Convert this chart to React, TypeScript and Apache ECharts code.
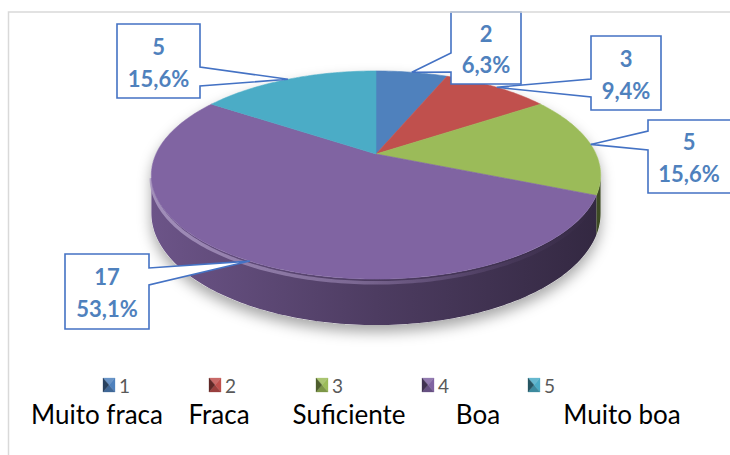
import React, { useEffect, useRef } from "react";
import * as echarts from "echarts";

// ---- data ----
const categories = ["1", "2", "3", "4", "5"];
const categoryNames = ["Muito fraca", "Fraca", "Suficiente", "Boa", "Muito boa"];
const values = [2, 3, 5, 17, 5];
const sliceColors = ["#4f81bd", "#c0504d", "#9bbb59", "#8064a2", "#4bacc6"];

// ---- layout (pixels) ----
const CX = 376; // pie apex x
const CY = 154; // pie apex y
const RX = 220;
const RY = 99.8;
const K = 0.202; // perspective
const DEPTH = 36.7;
// callout boxes: [x0, y0, x1, y1, side, attachTop, attachBottom]
const calloutBoxes: [number, number, number, number, string, number, number][] = [
  [451, 12, 521, 84, "left", 53, 72],
  [591, 36, 661, 110, "left", 79, 97],
  [648, 120, 732, 193, "left", 131, 150],
  [65, 254, 149, 329, "right", 268, 285],
  [117, 24, 200, 98, "right", 67, 86],
];
const legendX = [103, 209, 316, 422, 528];
const legendY = 385;
const nameX = [97, 219, 349, 478, 622];
const nameY = 414;

const total = values.reduce((a, b) => a + b, 0);
const startAngles: number[] = [];
{
  let acc = 0;
  values.forEach((v) => {
    startAngles.push((acc / total) * 360);
    acc += v;
  });
}

// largest remainder rounding of percentages (one decimal), like Excel
function percentLabels(vals: number[]): string[] {
  const tenths = vals.map((v) => (v / total) * 1000);
  const fl = tenths.map((t) => Math.floor(t + 1e-9));
  let rest = 1000 - fl.reduce((a, b) => a + b, 0);
  const order = tenths
    .map((t, i) => ({ i, r: t - fl[i] }))
    .sort((a, b) => b.r - a.r);
  for (let j = 0; j < order.length && rest > 0; j++, rest--) fl[order[j].i] += 1;
  return fl.map((n) => (n / 10).toFixed(1).replace(".", ",") + "%");
}
const pctLabels = percentLabels(values);

function hexToRgb(h: string) {
  const n = parseInt(h.slice(1), 16);
  return [(n >> 16) & 255, (n >> 8) & 255, n & 255];
}
function shade(h: string, f: number, a = 1) {
  const [r, g, b] = hexToRgb(h);
  const c = (x: number) => Math.max(0, Math.min(255, Math.round(x * f)));
  return `rgba(${c(r)},${c(g)},${c(b)},${a})`;
}
function tint(h: string, f: number, a = 1) {
  const [r, g, b] = hexToRgb(h);
  const c = (x: number) => Math.round(x + (255 - x) * f);
  return `rgba(${c(r)},${c(g)},${c(b)},${a})`;
}

function proj(deg: number, r = 1, down = 0): number[] {
  const t = (deg * Math.PI) / 180;
  const u = r * Math.sin(t);
  const v = r * Math.cos(t);
  const w = 1 + K * v;
  return [CX + (RX * u) / w, CY - (RY * v) / w + down / w];
}

const SIL = (Math.acos(-K) * 180) / Math.PI; // silhouette angle
const VIS0 = SIL;
const VIS1 = 360 - SIL;

function arcPts(a0: number, a1: number, down = 0, r = 1) {
  const pts: number[][] = [];
  const n = Math.max(2, Math.ceil(Math.abs(a1 - a0) / 1));
  for (let i = 0; i <= n; i++) pts.push(proj(a0 + ((a1 - a0) * i) / n, r, down));
  return pts;
}

function renderPie(params: any, api: any) {
  const i = params.dataIndex;
  const v = api.value(0);
  const a0 = startAngles[i];
  const a1 = a0 + (v / total) * 360;
  const col = sliceColors[i];
  const children: any[] = [];

  if (i === 0) {
    // soft drop shadow beneath the whole pie
    const base = arcPts(VIS0, VIS1, DEPTH);
    children.push({
      type: "polygon",
      shape: { points: base.concat(arcPts(VIS1, VIS0 + 360, 0).slice(1)) },
      style: {
        fill: "#ffffff",
        shadowBlur: 14,
        shadowColor: "rgba(0,0,0,0.35)",
        shadowOffsetY: 7,
      },
    });
  }

  const s0 = Math.max(a0, VIS0);
  const s1 = Math.min(a1, VIS1);
  if (s1 > s0) {
    const topEdge = arcPts(s0, s1, 0);
    const botEdge = arcPts(s0, s1, DEPTH).reverse();
    children.push({
      type: "polygon",
      shape: { points: topEdge.concat(botEdge) },
      style: {
        fill: {
          type: "linear",
          x: CX - RX * 1.02,
          y: 0,
          x2: CX + RX * 1.02,
          y2: 0,
          global: true,
          colorStops: [
            { offset: 0, color: shade(col, 0.84) },
            { offset: 0.5, color: shade(col, 0.6) },
            { offset: 1, color: shade(col, 0.4) },
          ],
        },
        stroke: null,
      },
    });
    children.push({
      type: "polyline",
      shape: { points: arcPts(s0, s1, 3) },
      style: {
        fill: null,
        lineWidth: 3.5,
        stroke: {
          type: "linear",
          x: CX - RX * 1.02,
          y: 0,
          x2: CX + RX * 1.02,
          y2: 0,
          global: true,
          colorStops: [
            { offset: 0, color: tint(col, 0.35, 0.85) },
            { offset: 0.45, color: tint(col, 0.25, 0.55) },
            { offset: 0.8, color: tint(col, 0.1, 0.12) },
            { offset: 1, color: tint(col, 0, 0) },
          ],
        },
      },
    });
  }

  const face = [[CX, CY]].concat(arcPts(a0, a1, 0));
  children.push({
    type: "polygon",
    shape: { points: face },
    style: { fill: col, stroke: col, lineWidth: 0.6 },
  });
  return { type: "group", children };
}

function renderCallout(params: any, api: any) {
  const i = params.dataIndex;
  const v = api.value(0);
  const a0 = startAngles[i];
  const mid = a0 + (v / total) * 180;
  const tip = proj(mid, 1, 0);
  const [x0, y0, x1, y1, side, t0, t1] = calloutBoxes[i];
  let pts: number[][];
  if (side === "right") {
    pts = [[x0, y0], [x1, y0], [x1, t0], tip, [x1, t1], [x1, y1], [x0, y1]];
  } else {
    pts = [[x0, y0], [x1, y0], [x1, y1], [x0, y1], [x0, t1], tip, [x0, t0]];
  }
  const cx = (x0 + Math.min(x1, 730)) / 2;
  const h = y1 - y0;
  const txt = (text: string, y: number) => ({
    type: "text",
    x: cx,
    y,
    style: {
      text,
      fill: "#4f81bd",
      fontSize: 22,
      fontWeight: "bold",
      fontFamily: "Lato",
      align: "center",
      verticalAlign: "middle",
    },
  });
  return {
    type: "group",
    children: [
      {
        type: "polygon",
        shape: { points: pts },
        style: { fill: "#ffffff", stroke: "#4472c4", lineWidth: 1.6 },
      },
      txt(String(v), y0 + h * 0.3),
      txt(pctLabels[i], y0 + h * 0.73),
    ],
  };
}

function legendGraphics() {
  const els: any[] = [];
  categories.forEach((c, i) => {
    const x = legendX[i];
    const y = legendY - 7;
    const w = 12;
    const hh = 14;
    const col = sliceColors[i];
    const mx = x + w / 2;
    const my = y + hh / 2;
    const tri = (p: number[][], f: string) => ({
      type: "polygon",
      shape: { points: p },
      style: { fill: f, stroke: f, lineWidth: 0.3 },
    });
    els.push(tri([[x, y], [x + w, y], [mx, my]], tint(col, 0.15)));
    els.push(tri([[x + w, y], [x + w, y + hh], [mx, my]], shade(col, 1.0)));
    els.push(tri([[x, y + hh], [x + w, y + hh], [mx, my]], shade(col, 0.8)));
    els.push(tri([[x, y], [x, y + hh], [mx, my]], shade(col, 0.5)));
    els.push({
      type: "text",
      x: x + 16,
      y: legendY,
      style: {
        text: c,
        fill: "#595959",
        fontSize: 19,
        fontFamily: "Lato",
        align: "left",
        verticalAlign: "middle",
      },
    });
  });
  categoryNames.forEach((n, i) => {
    els.push({
      type: "text",
      x: nameX[i],
      y: nameY,
      style: {
        text: n,
        fill: "#000000",
        fontSize: 26,
        fontFamily: "Lato",
        align: "center",
        verticalAlign: "middle",
      },
    });
  });
  els.push({
    type: "rect",
    z: 100,
    shape: { x: 8.5, y: 12, width: 780, height: 500 },
    style: { fill: null, stroke: "#d9d9d9", lineWidth: 1.5 },
  });
  return els;
}

export default function App() {
  const ref = useRef<HTMLDivElement>(null);
  useEffect(() => {
    document.body.style.margin = "0";
    if (!ref.current) return;
    const chart = echarts.init(ref.current, undefined, { renderer: "svg" });
    chart.setOption({
      animation: false,
      backgroundColor: "#ffffff",
      series: [
        {
          type: "custom",
          coordinateSystem: "none",
          silent: true,
          data: values.map((v, i) => [v, i]),
          renderItem: renderPie,
          z: 2,
        },
        {
          type: "custom",
          coordinateSystem: "none",
          silent: true,
          data: values.map((v, i) => [v, i]),
          renderItem: renderCallout,
          z: 5,
        },
      ],
      graphic: legendGraphics(),
    });
    return () => chart.dispose();
  }, []);
  return <div ref={ref} style={{ width: 730, height: 455 }} />;
}
